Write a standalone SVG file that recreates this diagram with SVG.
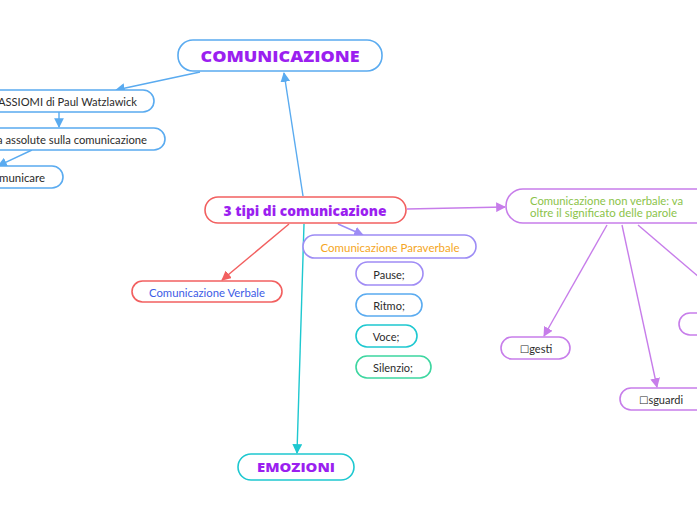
<svg xmlns="http://www.w3.org/2000/svg" width="697" height="520" viewBox="0 0 697 520">
<style>
.n{fill:#fff;stroke-width:1.6}
.t{font-family:Lato,"Open Sans",sans-serif;font-size:11px;fill:#2b2b2b;text-anchor:middle;dominant-baseline:central}
.b{font-family:"Open Sans",Lato,sans-serif;font-weight:800;fill:#9b1ff0;text-anchor:middle;dominant-baseline:central}
.c{fill:none;stroke-width:1.4}
.bx{font-family:"DejaVu Sans",sans-serif;font-size:10px}
</style>
<defs>
<marker id="mb" viewBox="0 0 10 10" refX="9" refY="5" markerWidth="7" markerHeight="7" orient="auto"><path d="M0,0L10,5L0,10z" fill="#5aabf0"/></marker>
<marker id="mr" viewBox="0 0 10 10" refX="9" refY="5" markerWidth="7" markerHeight="7" orient="auto"><path d="M0,0L10,5L0,10z" fill="#f26060"/></marker>
<marker id="ml" viewBox="0 0 10 10" refX="9" refY="5" markerWidth="7" markerHeight="7" orient="auto"><path d="M0,0L10,5L0,10z" fill="#9d8cf5"/></marker>
<marker id="mc" viewBox="0 0 10 10" refX="9" refY="5" markerWidth="7" markerHeight="7" orient="auto"><path d="M0,0L10,5L0,10z" fill="#1ec8d0"/></marker>
<marker id="mp" viewBox="0 0 10 10" refX="9" refY="5" markerWidth="7" markerHeight="7" orient="auto"><path d="M0,0L10,5L0,10z" fill="#c77dea"/></marker>
</defs>
<rect width="697" height="520" fill="#fff"/>
<g id="connectors">
<path class="c" stroke="#5aabf0" d="M200,72L116,90" marker-end="url(#mb)"/>
<path class="c" stroke="#5aabf0" d="M59,112L59,127" marker-end="url(#mb)"/>
<path class="c" stroke="#5aabf0" d="M32,150L-2,166" marker-end="url(#mb)"/>
<path class="c" stroke="#5aabf0" d="M303,196L284,73" marker-end="url(#mb)"/>
<path class="c" stroke="#f26060" d="M289,224L222,280" marker-end="url(#mr)"/>
<path class="c" stroke="#9d8cf5" d="M338,224L363,235" marker-end="url(#ml)"/>
<path class="c" stroke="#1ec8d0" d="M304,224L297,453" marker-end="url(#mc)"/>
<path class="c" stroke="#c77dea" d="M407,209L505,207" marker-end="url(#mp)"/>
<path class="c" stroke="#c77dea" d="M607,225L544,336" marker-end="url(#mp)"/>
<path class="c" stroke="#c77dea" d="M622,225L657,387" marker-end="url(#mp)"/>
<path class="c" stroke="#c77dea" d="M638,225L700,278"/>
</g>
<g id="comunicazione">
<rect class="n" stroke="#5aabf0" x="178" y="40" width="204" height="31" rx="15"/>
<text class="b" x="280" y="56" font-size="16" textLength="159" lengthAdjust="spacingAndGlyphs">COMUNICAZIONE</text>
</g>
<g id="assiomi">
<rect class="n" stroke="#5aabf0" x="-60" y="90" width="214" height="22" rx="11"/>
<text class="t" x="137" y="101" style="text-anchor:end" textLength="139" lengthAdjust="spacingAndGlyphs">ASSIOMI di Paul Watzlawick</text>
</g>
<g id="verita">
<rect class="n" stroke="#5aabf0" x="-60" y="128" width="225" height="22" rx="11"/>
<text class="t" x="147" y="139" style="text-anchor:end" textLength="150" lengthAdjust="spacingAndGlyphs">a assolute sulla comunicazione</text>
</g>
<g id="non-comunicare">
<rect class="n" stroke="#5aabf0" x="-60" y="166" width="123" height="22" rx="11"/>
<text class="t" x="45" y="177" style="text-anchor:end" textLength="46" lengthAdjust="spacingAndGlyphs">municare</text>
</g>
<g id="tre-tipi">
<rect class="n" stroke="#f26060" x="205" y="197" width="201" height="26" rx="13"/>
<text class="b" x="305" y="210" font-size="14" textLength="163" lengthAdjust="spacingAndGlyphs">3 tipi di comunicazione</text>
</g>
<g id="verbale">
<rect class="n" stroke="#f26060" x="132" y="281" width="150" height="21" rx="10.5"/>
<text class="t" x="207" y="292" style="fill:#3d5ce6" textLength="116" lengthAdjust="spacingAndGlyphs">Comunicazione Verbale</text>
</g>
<g id="paraverbale">
<rect class="n" stroke="#9d8cf5" x="303" y="235" width="173" height="23" rx="11.5"/>
<text class="t" x="390" y="247" style="fill:#f5a623" textLength="139" lengthAdjust="spacingAndGlyphs">Comunicazione Paraverbale</text>
</g>
<g id="pause">
<rect class="n" stroke="#a08cf5" x="356" y="262" width="67" height="23" rx="11.5"/>
<text class="t" x="389" y="274">Pause;</text>
</g>
<g id="ritmo">
<rect class="n" stroke="#5aabf0" x="356" y="294" width="66" height="22" rx="11"/>
<text class="t" x="389" y="305">Ritmo;</text>
</g>
<g id="voce">
<rect class="n" stroke="#1ec8d0" x="356" y="325" width="61" height="22" rx="11"/>
<text class="t" x="386" y="336">Voce;</text>
</g>
<g id="silenzio">
<rect class="n" stroke="#3dd6a0" x="356" y="356" width="75" height="22" rx="11"/>
<text class="t" x="393" y="367">Silenzio;</text>
</g>
<g id="emozioni">
<rect class="n" stroke="#1ec8d0" x="238" y="454" width="116" height="26" rx="13"/>
<text class="b" x="296" y="467" font-size="13" textLength="78" lengthAdjust="spacingAndGlyphs">EMOZIONI</text>
</g>
<g id="non-verbale">
<rect class="n" stroke="#c77dea" x="506" y="189" width="230" height="34" rx="17"/>
<text class="t" style="fill:#8bc34a;text-anchor:start" x="530" y="200" textLength="153" lengthAdjust="spacingAndGlyphs">Comunicazione non verbale: va</text>
<text class="t" style="fill:#8bc34a;text-anchor:start" x="530" y="212" textLength="147" lengthAdjust="spacingAndGlyphs">oltre il significato delle parole</text>
</g>
<g id="gesti">
<rect class="n" stroke="#c77dea" x="501" y="337" width="69" height="22" rx="11"/>
<text class="t" x="536" y="348"><tspan class="bx">□</tspan>gesti</text>
</g>
<g id="sguardi">
<rect class="n" stroke="#c77dea" x="620" y="388" width="90" height="22" rx="11"/>
<text class="t" x="661" y="399"><tspan class="bx">□</tspan>sguardi</text>
</g>
<g id="terzo">
<rect class="n" stroke="#c77dea" x="679" y="313" width="60" height="22" rx="11"/>
</g>
</svg>
